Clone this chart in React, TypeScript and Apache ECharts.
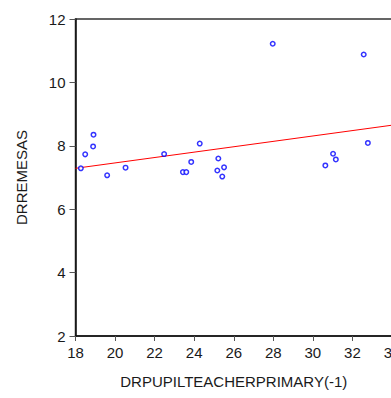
import React, { useEffect, useRef } from "react";
import * as echarts from "echarts";

// Observations: lagged pupil-teacher ratio (primary) vs. remittances
const pupilTeacher: number[] = [
  18.27, 18.49, 18.91, 18.89, 19.6, 20.53, 22.48, 23.43, 23.6, 23.85, 24.28,
  25.22, 25.17, 25.51, 25.42, 27.97, 30.63, 31.02, 31.16, 32.57, 32.78,
];
const remesas: number[] = [
  7.29, 7.73, 8.35, 7.98, 7.07, 7.31, 7.74, 7.17, 7.17, 7.49, 8.07,
  7.6, 7.22, 7.32, 7.03, 11.22, 7.38, 7.75, 7.57, 10.88, 8.09,
];

// Fitted regression line endpoints
const fitX: number[] = [18, 34];
const fitY: number[] = [7.29, 8.65];

const xTicks = { min: 18, max: 34, interval: 2 };
const yTicks = { min: 2, max: 12, interval: 2 };

const FONT = "'Liberation Sans', Arial, sans-serif";

export default function App() {
  const ref = useRef<HTMLDivElement>(null);

  useEffect(() => {
    if (!ref.current) return;
    const chart = echarts.init(ref.current, null, { renderer: "svg" });
    const points = pupilTeacher.map((x, i) => [x, remesas[i]]);
    const line = fitX.map((x, i) => [x, fitY[i]]);

    chart.setOption({
      animation: false,
      backgroundColor: "#ffffff",
      grid: {
        left: 75.5,
        top: 19,
        width: 316.5,
        bottom: 62,
        outerBoundsMode: "none",
        containLabel: false,
        show: true,
        borderColor: "#333333",
        borderWidth: 1.5,
        backgroundColor: "transparent",
      },
      xAxis: {
        type: "value",
        min: xTicks.min,
        max: xTicks.max,
        interval: xTicks.interval,
        name: "DRPUPILTEACHERPRIMARY(-1)",
        nameLocation: "middle",
        nameGap: 38,
        nameTextStyle: { fontFamily: FONT, fontSize: 15, color: "#1a1a1a" },
        axisLine: { show: true, lineStyle: { color: "#111111", width: 1.5 } },
        axisTick: { show: true, length: 5, lineStyle: { color: "#555555" } },
        axisLabel: {
          margin: 9,
          fontFamily: FONT,
          fontSize: 15,
          color: "#1a1a1a",
          showMaxLabel: true,
          hideOverlap: false,
        },
        splitLine: { show: false },
      },
      yAxis: {
        type: "value",
        min: yTicks.min,
        max: yTicks.max,
        interval: yTicks.interval,
        name: "DRREMESAS",
        nameLocation: "middle",
        nameGap: 47,
        nameTextStyle: { fontFamily: FONT, fontSize: 15, color: "#1a1a1a" },
        axisLine: { show: true, lineStyle: { color: "#111111", width: 1.5 } },
        axisTick: { show: true, length: 6, lineStyle: { color: "#555555" } },
        axisLabel: { margin: 10, fontFamily: FONT, fontSize: 15, color: "#1a1a1a" },
        splitLine: { show: false },
      },
      series: [
        {
          type: "line",
          data: line,
          showSymbol: false,
          symbol: "none",
          lineStyle: { color: "#ff0000", width: 1 },
          z: 2,
        },
        {
          type: "scatter",
          data: points,
          symbol: "circle",
          symbolSize: 4.5,
          itemStyle: { color: "#ffffff", borderColor: "#0000ff", borderWidth: 1.5 },
          z: 3,
        },
      ],
    });

    return () => chart.dispose();
  }, []);

  return (
    <div
      ref={ref}
      style={{ position: "fixed", left: 0, top: 0, width: 391, height: 398 }}
    />
  );
}
